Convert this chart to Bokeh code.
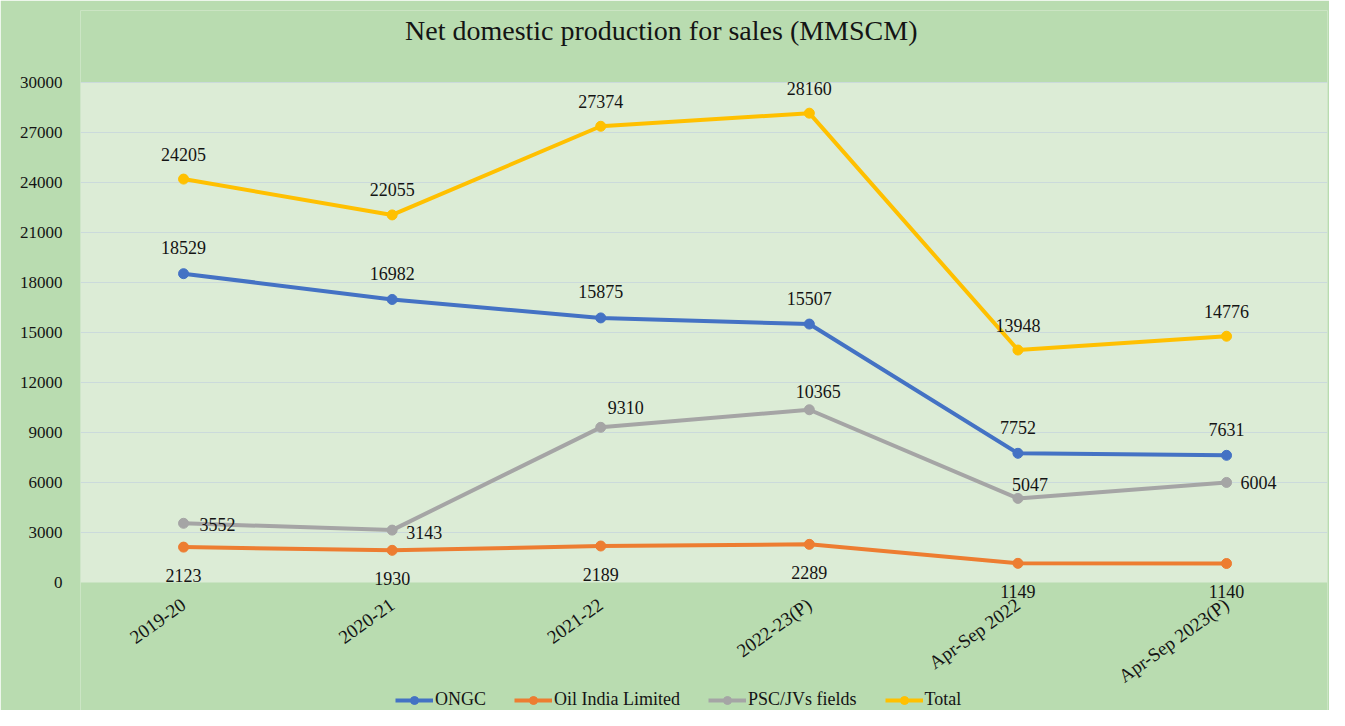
from bokeh.plotting import figure
from bokeh.models import Range1d, FixedTicker, Legend, LegendItem, Label, LabelSet, ColumnDataSource, BoxAnnotation
from bokeh.embed import file_html
from bokeh.resources import INLINE

# ---- data ----
categories = ["2019-20", "2020-21", "2021-22", "2022-23(P)", "Apr-Sep 2022", "Apr-Sep 2023(P)"]
ongc = [18529, 16982, 15875, 15507, 7752, 7631]
oil_india = [2123, 1930, 2189, 2289, 1149, 1140]
psc_jv = [3552, 3143, 9310, 10365, 5047, 6004]
total = [24205, 22055, 27374, 28160, 13948, 14776]
y_ticks = [0, 3000, 6000, 9000, 12000, 15000, 18000, 21000, 24000, 27000, 30000]
series_names = ["ONGC", "Oil India Limited", "PSC/JVs fields", "Total"]
chart_title = "Net domestic production for sales (MMSCM)"

# ---- styles ----
FONT = "Liberation Serif"
TXT = "#141414"
OUTER = "#b9dcb0"
INNER = "#dcecd6"
colors = ["#4472C4", "#ED7D31", "#A5A5A5", "#FFC000"]
lab_dx = [[0] * 6, [0] * 6, [34, 32, 25, 9, 12, 32], [0] * 6]
lab_dy = [[26] * 6, [-28] * 6, [-1, -2, 20, 18, 14, 0], [25] * 6]

xs = list(range(len(categories)))
Y_MAX = y_ticks[-1]
PX = Y_MAX / 500.0          # data units per screen pixel (plot area 500px tall)

p = figure(width=1329, height=710, output_backend="svg", toolbar_location=None,
           x_range=Range1d(-0.494, 5.484),
           y_range=Range1d(-128 * PX, Y_MAX + 72 * PX),
           min_border_left=80, min_border_right=2, min_border_top=10, min_border_bottom=0)
p.title.visible = False
p.background_fill_color = OUTER
p.border_fill_color = OUTER
p.outline_line_color = None

p.add_layout(BoxAnnotation(bottom=0, top=Y_MAX, fill_color=INNER, fill_alpha=1,
                           line_color=None, level="image"))

p.xgrid.grid_line_color = None
p.ygrid.grid_line_color = "#cbdadb"
p.ygrid.grid_line_width = 1.2
p.ygrid.ticker = FixedTicker(ticks=y_ticks[1:])

p.yaxis.ticker = FixedTicker(ticks=y_ticks)
p.yaxis.axis_line_color = None
p.yaxis.major_tick_line_color = None
p.yaxis.minor_tick_line_color = None
p.yaxis.major_tick_out = 0
p.yaxis.major_label_standoff = 18
p.yaxis.major_label_text_font = FONT
p.yaxis.major_label_text_font_size = "17px"
p.yaxis.major_label_text_color = TXT

p.xaxis.ticker = FixedTicker(ticks=xs)
p.xaxis.fixed_location = -18 * PX
p.xaxis.major_label_overrides = {i: c for i, c in enumerate(categories)}
p.xaxis.major_label_orientation = 0.62
p.xaxis.axis_line_color = None
p.xaxis.major_tick_line_color = None
p.xaxis.minor_tick_line_color = None
p.xaxis.major_tick_out = 0
p.xaxis.major_label_standoff = 2
p.xaxis.major_label_text_font = FONT
p.xaxis.major_label_text_font_size = "19px"
p.xaxis.major_label_text_color = TXT

items = []
all_vals = [ongc, oil_india, psc_jv, total]
for k, (name, vals, col) in enumerate(zip(series_names, all_vals, colors)):
    rl = p.line(xs, vals, line_color=col, line_width=4)
    rp = p.scatter(xs, vals, size=10, fill_color=col, line_color=col)
    items.append(LegendItem(label=name, renderers=[rl, rp]))
    src = ColumnDataSource(dict(x=xs, y=vals, t=[str(v) for v in vals],
                                dx=lab_dx[k], dy=lab_dy[k]))
    p.add_layout(LabelSet(x="x", y="y", text="t", source=src, x_offset="dx", y_offset="dy",
                          text_align="center", text_baseline="middle",
                          text_font=FONT, text_font_size="18px", text_color=TXT))

legend = Legend(items=items, orientation="horizontal", location=(315, 0),
                background_fill_alpha=0, border_line_color=None,
                label_text_font=FONT, label_text_font_size="18px", label_text_color=TXT,
                glyph_width=38, label_standoff=2, spacing=28, padding=4, margin=0)
p.add_layout(legend)

p.add_layout(Label(x=2.29, y=Y_MAX, y_offset=52, text=chart_title,
                   text_align="center", text_baseline="middle",
                   text_font=FONT, text_font_size="28px", text_color=TXT))

open("out.html", "w").write(file_html(p, INLINE))
